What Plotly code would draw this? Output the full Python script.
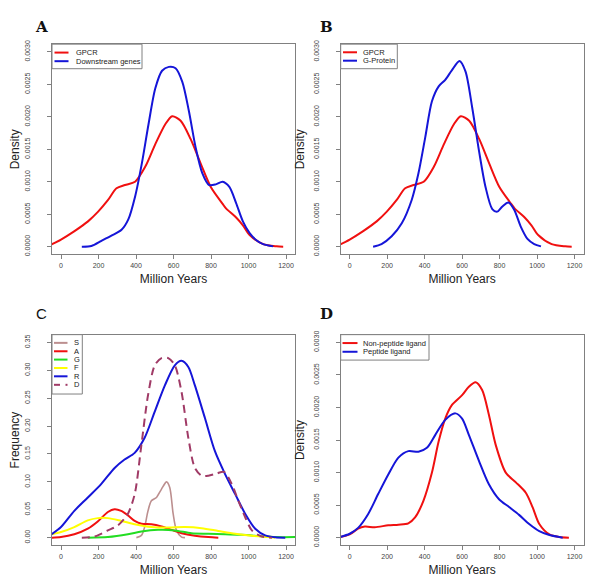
import plotly.graph_objects as go

# ---------------- data ----------------
gpcr_x = [-50, 0, 72, 144, 198, 251, 296, 341, 395, 449, 503, 557, 593, 638, 691, 745, 799, 862, 880, 934, 970, 1006, 1078, 1150, 1185]
gpcr_y = [0.000035, 0.00011, 0.00024, 0.00039, 0.00054, 0.00072, 0.0009, 0.00095, 0.001, 0.00123, 0.00158, 0.00189, 0.00201, 0.00194, 0.00166, 0.00128, 0.00092, 0.00066, 0.00059, 0.00045, 0.00033, 0.00018, 0.00004, 0.000005, 0.0]

down_x = [111, 162, 216, 269, 323, 359, 395, 431, 467, 503, 539, 575, 611, 647, 682, 718, 754, 790, 826, 862, 898, 934, 970, 1006, 1042, 1078, 1132]
down_y = [0.0, 0.00001, 0.00009, 0.00017, 0.00026, 0.00042, 0.00077, 0.00128, 0.00189, 0.00244, 0.00271, 0.00277, 0.00275, 0.00254, 0.00209, 0.00153, 0.00113, 0.00095, 0.00096, 0.001, 0.00092, 0.00067, 0.00039, 0.00021, 0.0001, 0.00004, 0.000005]

gprot_x = [125, 170, 224, 278, 331, 367, 403, 439, 475, 510, 546, 586, 618, 654, 690, 725, 761, 788, 815, 847, 878, 913, 949, 985, 1021]
gprot_y = [0.0, 0.00004, 0.00016, 0.00036, 0.00072, 0.00113, 0.00168, 0.00224, 0.00247, 0.00257, 0.00272, 0.00286, 0.0027, 0.00214, 0.00148, 0.00092, 0.00058, 0.00054, 0.00062, 0.00068, 0.00057, 0.00031, 0.00012, 0.00004, 0.000005]

s_x = [402, 429, 446, 464, 482, 509, 536, 563, 580, 598, 616, 643, 661]
s_y = [0.0, 0.004, 0.019, 0.048, 0.066, 0.072, 0.087, 0.1, 0.09, 0.043, 0.013, 0.001, 0.0]

a_x = [-50, 0, 71, 143, 196, 250, 286, 321, 357, 393, 429, 482, 536, 589, 643, 714, 786, 839]
a_y = [0.0, 0.001, 0.006, 0.016, 0.029, 0.046, 0.051, 0.048, 0.04, 0.03, 0.025, 0.024, 0.02, 0.014, 0.008, 0.0035, 0.001, 0.0]

g_x = [143, 250, 357, 429, 518, 607, 696, 786, 875, 964, 1054, 1143, 1250]
g_y = [0.0, 0.001, 0.006, 0.011, 0.014, 0.013, 0.008, 0.007, 0.006, 0.005, 0.003, 0.001, 0.001]

f_x = [-50, 0, 71, 143, 196, 250, 321, 393, 482, 571, 661, 750, 839, 929, 1018, 1107, 1143]
f_y = [0.006, 0.01, 0.019, 0.031, 0.035, 0.035, 0.03, 0.024, 0.019, 0.018, 0.019, 0.017, 0.012, 0.007, 0.0035, 0.001, 0.0]

r_x = [-50, 0, 71, 143, 214, 286, 339, 393, 446, 500, 554, 607, 643, 679, 714, 768, 821, 875, 929, 982, 1036, 1089, 1143, 1196]
r_y = [0.006, 0.019, 0.048, 0.072, 0.096, 0.125, 0.14, 0.152, 0.179, 0.226, 0.273, 0.309, 0.317, 0.306, 0.273, 0.214, 0.155, 0.114, 0.078, 0.043, 0.016, 0.004, 0.0006, 0.0]

d_x = [111, 179, 250, 304, 357, 393, 429, 464, 500, 536, 572, 607, 643, 679, 714, 750, 786, 830, 870, 911, 946, 982, 1018, 1071, 1125]
d_y = [0.0, 0.002, 0.013, 0.022, 0.043, 0.078, 0.167, 0.255, 0.309, 0.322, 0.322, 0.309, 0.261, 0.179, 0.125, 0.111, 0.111, 0.115, 0.118, 0.096, 0.066, 0.037, 0.013, 0.002, 0.0]

nonpep_x = [-50, 0, 45, 81, 134, 206, 260, 313, 349, 394, 439, 475, 510, 546, 600, 636, 672, 707, 743, 779, 833, 887, 940, 976, 1012, 1066, 1119, 1170]
nonpep_y = [0.00001, 0.00005, 0.00014, 0.00017, 0.00016, 0.00019, 0.0002, 0.00022, 0.00031, 0.00057, 0.001, 0.00148, 0.00183, 0.00204, 0.00219, 0.00232, 0.00239, 0.00227, 0.00189, 0.00143, 0.001, 0.00085, 0.00069, 0.00047, 0.00021, 0.00005, 0.00001, 0.0]

pep_x = [-50, 0, 45, 98, 152, 206, 260, 313, 367, 412, 457, 510, 564, 600, 636, 690, 743, 797, 851, 904, 958, 1012, 1066, 1137]
pep_y = [0.00001, 0.00006, 0.00015, 0.00036, 0.00067, 0.00097, 0.00123, 0.00133, 0.00132, 0.00138, 0.00158, 0.00181, 0.00191, 0.00183, 0.00158, 0.00118, 0.00082, 0.00059, 0.00047, 0.00035, 0.00021, 0.0001, 0.00004, 0.0]

x_ticks = [0, 200, 400, 600, 800, 1000, 1200]
dens_ticks = [0.0, 0.0005, 0.001, 0.0015, 0.002, 0.0025, 0.003]
freq_ticks = [0.0, 0.05, 0.10, 0.15, 0.20, 0.25, 0.30, 0.35]

RED = "#F01010"
BLUE = "#1515D8"
GREEN = "#22DD22"
YELLOW = "#FFFF00"
ROSY = "#BC8F8F"
MAROON = "#A03A66"

W, H = 600, 583
BOX = "#808080"
TICKC = "#444444"
SANS = "Liberation Sans, Arial"

fig = go.Figure()


def line(x, y, color, name, xa, ya, width=2, dash="solid"):
    fig.add_trace(go.Scatter(x=x, y=y, mode="lines", name=name, showlegend=False,
                             line=dict(color=color, width=width, shape="spline", smoothing=0.8, dash=dash),
                             xaxis=xa, yaxis=ya))


# Panel A
line(gpcr_x, gpcr_y, RED, "GPCR", "x", "y")
line(down_x, down_y, BLUE, "Downstream genes", "x", "y")
# Panel B
line(gpcr_x, gpcr_y, RED, "GPCR", "x2", "y2")
line(gprot_x, gprot_y, BLUE, "G-Protein", "x2", "y2")
# Panel C
line(s_x, s_y, ROSY, "S", "x3", "y3", width=1.6)
line(a_x, a_y, RED, "A", "x3", "y3")
line(g_x, g_y, GREEN, "G", "x3", "y3")
line(f_x, f_y, YELLOW, "F", "x3", "y3")
line(r_x, r_y, BLUE, "R", "x3", "y3")
line(d_x, d_y, MAROON, "D", "x3", "y3", dash="8px,5px")
# Panel D
line(nonpep_x, nonpep_y, RED, "Non-peptide ligand", "x4", "y4")
line(pep_x, pep_y, BLUE, "Peptide ligand", "x4", "y4")


def px_x(p):
    return p / W


def px_y(p):
    return 1 - p / H


xdom_l = [px_x(44), px_x(287)]
xdom_r = [px_x(332.7), px_x(575.5)]
ydom_t = [px_y(245), px_y(32.5)]
ydom_b = [px_y(539), px_y(326)]

common_x = dict(range=[-48, 1248], tickvals=x_ticks, ticktext=[str(v) for v in x_ticks],
                showline=True, mirror=True, linecolor=BOX, linewidth=1,
                ticks="outside", ticklen=4, tickcolor=BOX, showgrid=False, zeroline=False,
                tickfont=dict(family=SANS, size=7, color=TICKC),
                title=dict(text="Million Years", font=dict(family=SANS, size=12, color="#222222"), standoff=6))


def yax(dom, ticks, rng, fmt, anchor, title):
    return dict(domain=dom, range=rng, tickvals=ticks, ticktext=[format(v, fmt) for v in ticks],
                showline=True, mirror=True, linecolor=BOX, linewidth=1, anchor=anchor,
                ticks="outside", ticklen=4, tickcolor=BOX, showgrid=False, zeroline=False,
                tickangle=-90, ticklabelstandoff=14,
                tickfont=dict(family=SANS, size=7, color=TICKC),
                title=dict(text=title, font=dict(family=SANS, size=12, color="#222222"), standoff=5))


dens_rng = [-0.00012, 0.00312]
freq_rng = [-0.014, 0.364]

fig.update_layout(
    width=W, height=H, margin=dict(l=0, r=0, t=0, b=0),
    paper_bgcolor="white", plot_bgcolor="white", showlegend=False,
    xaxis=dict(domain=xdom_l, anchor="y", **common_x),
    yaxis=yax(ydom_t, dens_ticks, dens_rng, ".4f", "x", "Density"),
    xaxis2=dict(domain=xdom_r, anchor="y2", **common_x),
    yaxis2=yax(ydom_t, dens_ticks, dens_rng, ".4f", "x2", "Density"),
    xaxis3=dict(domain=xdom_l, anchor="y3", **common_x),
    yaxis3=yax(ydom_b, freq_ticks, freq_rng, ".2f", "x3", "Frequency"),
    xaxis4=dict(domain=xdom_r, anchor="y4", **common_x),
    yaxis4=yax(ydom_b, dens_ticks, dens_rng, ".4f", "x4", "Density"),
)

# ---------------- legends (R-style boxes) ----------------
legends = [
    (44, 32.5, 134, 57.3, 46.5, 60.5, 65.5, [("GPCR", RED, "solid", 41), ("Downstream genes", BLUE, "solid", 49.7)]),
    (332.7, 32.5, 389.3, 57.3, 335, 349, 353.5, [("GPCR", RED, "solid", 40.7), ("G-Protein", BLUE, "solid", 49.2)]),
    (44, 326, 74.3, 386, 46, 59.5, 63.5, [("S", ROSY, "solid", 334.3), ("A", RED, "solid", 342.8),
                                          ("G", GREEN, "solid", 351.2), ("F", YELLOW, "solid", 359.7),
                                          ("R", BLUE, "solid", 368.1), ("D", MAROON, "dashdot", 376.7)]),
    (332.7, 326, 421, 351.7, 334.5, 349.5, 353.5, [("Non-peptide ligand", RED, "solid", 334.5), ("Peptide ligand", BLUE, "solid", 343.3)]),
]

for bl, bt, br, bb, lx0, lx1, tx, entries in legends:
    fig.add_shape(type="rect", xref="paper", yref="paper", x0=px_x(bl), x1=px_x(br), y0=px_y(bb), y1=px_y(bt),
                  line=dict(color=BOX, width=1), fillcolor="white", layer="above")
    for label, color, dash, yy in entries:
        if dash == "dashdot":
            fig.add_shape(type="line", xref="paper", yref="paper", x0=px_x(lx0), x1=px_x(lx0 + 6),
                          y0=px_y(yy), y1=px_y(yy), line=dict(color=color, width=2), layer="above")
            fig.add_shape(type="line", xref="paper", yref="paper", x0=px_x(lx1 - 2), x1=px_x(lx1),
                          y0=px_y(yy), y1=px_y(yy), line=dict(color=color, width=2), layer="above")
        else:
            fig.add_shape(type="line", xref="paper", yref="paper", x0=px_x(lx0), x1=px_x(lx1),
                          y0=px_y(yy), y1=px_y(yy), line=dict(color=color, width=2), layer="above")
        fig.add_annotation(text=label, x=px_x(tx), y=px_y(yy), xref="paper", yref="paper",
                           showarrow=False, xanchor="left", yanchor="middle",
                           font=dict(family=SANS, size=7.5, color="#222222"))

# Panel letters
serif = "DejaVu Serif, Liberation Serif, serif"
for txt, x, y, fam in [("A", 33, 15, serif), ("B", 318, 15, serif), ("C", 33, 305, SANS), ("D", 318, 305, serif)]:
    fig.add_annotation(text=f"<b>{txt}</b>" if fam == serif else txt, x=px_x(x), y=px_y(y), xref="paper", yref="paper",
                       showarrow=False, xanchor="center", yanchor="middle",
                       font=dict(family=fam, size=15, color="#111111"))

fig.write_html("out.html")
